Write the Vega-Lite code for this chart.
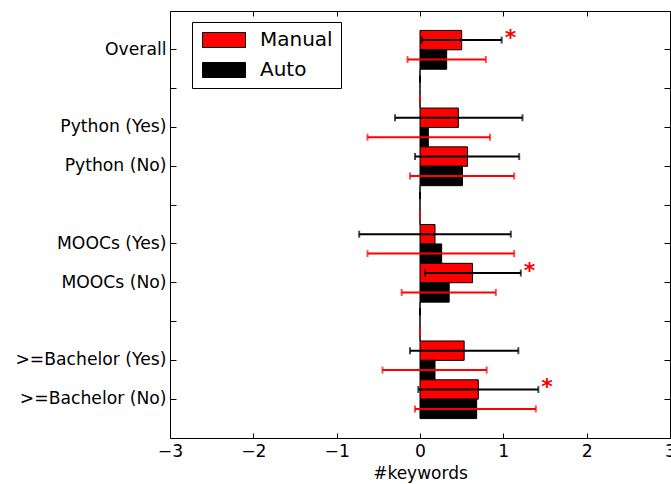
{
  "$schema": "https://vega.github.io/schema/vega-lite/v6.json",
  "autosize": "none",
  "width": 500,
  "height": 427,
  "padding": {"left": 170, "top": 11, "right": 1, "bottom": 46},
  "background": "white",
  "config": {
    "font": "DejaVu Sans",
    "view": {"stroke": "black", "strokeWidth": 1},
    "axis": {
      "grid": false,
      "domain": false,
      "tickColor": "black",
      "tickWidth": 1,
      "labelColor": "black",
      "labelFont": "DejaVu Sans",
      "labelFontSize": 17.2,
      "titleFont": "DejaVu Sans",
      "titleFontSize": 17,
      "titleFontWeight": "normal",
      "titleColor": "black"
    }
  },
  "data": {
    "values": [
      {"group": "Overall", "series": "Manual", "value": 0.50, "lo": 0.02, "hi": 0.98, "sig": "*"},
      {"group": "Overall", "series": "Auto", "value": 0.32, "lo": -0.15, "hi": 0.79},
      {"group": "gap1", "series": "Manual", "value": 0, "lo": 0, "hi": 0},
      {"group": "gap1", "series": "Auto", "value": 0, "lo": 0, "hi": 0},
      {"group": "Python (Yes)", "series": "Manual", "value": 0.46, "lo": -0.30, "hi": 1.23},
      {"group": "Python (Yes)", "series": "Auto", "value": 0.10, "lo": -0.63, "hi": 0.84},
      {"group": "Python (No)", "series": "Manual", "value": 0.57, "lo": -0.06, "hi": 1.19},
      {"group": "Python (No)", "series": "Auto", "value": 0.51, "lo": -0.12, "hi": 1.13},
      {"group": "gap2", "series": "Manual", "value": 0, "lo": 0, "hi": 0},
      {"group": "gap2", "series": "Auto", "value": 0, "lo": 0, "hi": 0},
      {"group": "MOOCs (Yes)", "series": "Manual", "value": 0.18, "lo": -0.73, "hi": 1.09},
      {"group": "MOOCs (Yes)", "series": "Auto", "value": 0.26, "lo": -0.63, "hi": 1.13},
      {"group": "MOOCs (No)", "series": "Manual", "value": 0.63, "lo": 0.06, "hi": 1.21, "sig": "*"},
      {"group": "MOOCs (No)", "series": "Auto", "value": 0.35, "lo": -0.22, "hi": 0.91},
      {"group": "gap3", "series": "Manual", "value": 0, "lo": 0, "hi": 0},
      {"group": "gap3", "series": "Auto", "value": 0, "lo": 0, "hi": 0},
      {"group": ">=Bachelor (Yes)", "series": "Manual", "value": 0.53, "lo": -0.12, "hi": 1.18},
      {"group": ">=Bachelor (Yes)", "series": "Auto", "value": 0.18, "lo": -0.45, "hi": 0.80},
      {"group": ">=Bachelor (No)", "series": "Manual", "value": 0.70, "lo": -0.02, "hi": 1.42, "sig": "*"},
      {"group": ">=Bachelor (No)", "series": "Auto", "value": 0.68, "lo": -0.06, "hi": 1.39}
    ]
  },
  "resolve": {"axis": {"x": "independent", "y": "independent"}},
  "layer": [
    {
      "mark": {"type": "bar", "stroke": "black", "strokeWidth": 1},
      "encoding": {
        "y": {
          "field": "group", "type": "nominal", "sort": null,
          "scale": {
            "domain": ["Overall", "gap1", "Python (Yes)", "Python (No)", "gap2", "MOOCs (Yes)", "MOOCs (No)", "gap3", ">=Bachelor (Yes)", ">=Bachelor (No)"],
            "paddingInner": 0, "paddingOuter": 0.5
          },
          "axis": {
            "orient": "left", "title": null, "tickSize": -6, "labelPadding": 10,
            "labelExpr": "indexof(datum.label, 'gap') === 0 ? '' : datum.label"
          }
        },
        "yOffset": {
          "field": "series", "type": "nominal",
          "scale": {"domain": ["Manual", "Auto"], "paddingInner": 0, "paddingOuter": 0}
        },
        "x": {
          "field": "value", "type": "quantitative",
          "scale": {"domain": [-3, 3], "nice": false, "zero": false},
          "axis": {
            "orient": "bottom", "title": "#keywords", "values": [-3, -2, -1, 0, 1, 2, 3],
            "tickSize": -5, "labelPadding": 9, "titlePadding": 6, "labelFlush": false
          }
        },
        "color": {
          "field": "series", "type": "nominal",
          "scale": {"domain": ["Manual", "Auto"], "range": ["#ff0000", "#000000"]},
          "legend": {
            "orient": "none", "legendX": 22, "legendY": 11, "title": null,
            "symbolType": "M-2.867,-1H2.867V1H-2.867Z", "symbolSize": 225,
            "symbolStrokeColor": "black", "symbolStrokeWidth": 1, "symbolOffset": 14,
            "labelFont": "DejaVu Sans", "labelFontSize": 20, "labelColor": "black",
            "labelOffset": 26, "rowPadding": 10,
            "strokeColor": "black", "fillColor": "white", "padding": 8
          }
        }
      }
    },
    {
      "mark": {"type": "rule", "strokeWidth": 2},
      "encoding": {
        "y": {"field": "group", "type": "nominal", "sort": null, "axis": {"orient": "right", "title": null, "labels": false, "tickSize": -6}},
        "yOffset": {"field": "series", "type": "nominal"},
        "x": {"field": "lo", "type": "quantitative", "axis": {"orient": "top", "title": null, "labels": false, "values": [-3, -2, -1, 0, 1, 2, 3], "tickSize": -5}},
        "x2": {"field": "hi"},
        "color": {"condition": {"test": "datum.series === 'Manual'", "value": "black"}, "value": "#ff0000"}
      }
    },
    {
      "mark": {"type": "tick", "orient": "vertical", "size": 7, "thickness": 2},
      "encoding": {
        "y": {"field": "group", "type": "nominal", "sort": null, "axis": null},
        "yOffset": {"field": "series", "type": "nominal"},
        "x": {"field": "lo", "type": "quantitative", "axis": null},
        "color": {"condition": {"test": "datum.series === 'Manual'", "value": "black"}, "value": "#ff0000"}
      }
    },
    {
      "mark": {"type": "tick", "orient": "vertical", "size": 7, "thickness": 2},
      "encoding": {
        "y": {"field": "group", "type": "nominal", "sort": null, "axis": null},
        "yOffset": {"field": "series", "type": "nominal"},
        "x": {"field": "hi", "type": "quantitative", "axis": null},
        "color": {"condition": {"test": "datum.series === 'Manual'", "value": "black"}, "value": "#ff0000"}
      }
    },
    {
      "transform": [{"filter": "isValid(datum.sig)"}],
      "mark": {"type": "text", "align": "left", "baseline": "alphabetic", "dx": 3, "dy": 5, "fontSize": 22, "fontWeight": "bold", "color": "#ff0000"},
      "encoding": {
        "y": {"field": "group", "type": "nominal", "sort": null, "axis": null},
        "yOffset": {"field": "series", "type": "nominal"},
        "x": {"field": "hi", "type": "quantitative", "axis": null},
        "text": {"field": "sig"}
      }
    }
  ]
}
